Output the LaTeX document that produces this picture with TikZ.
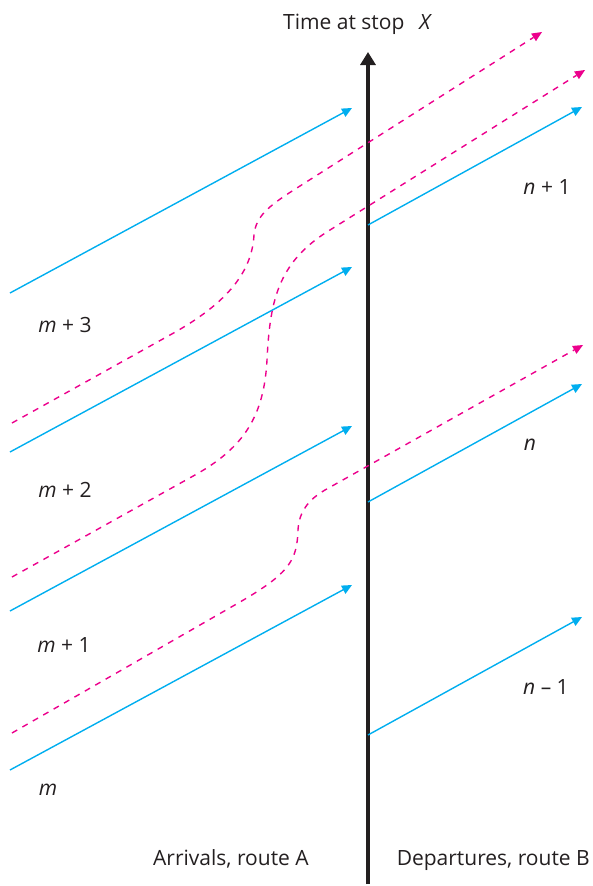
\documentclass[tikz,border=0pt]{standalone}
\usepackage{fontspec}
\setmainfont{Open Sans}
\usetikzlibrary{arrows.meta}

\definecolor{routecyan}{RGB}{0,174,239}
\definecolor{transfer}{RGB}{236,0,140}
\definecolor{axisblack}{RGB}{35,31,32}

\begin{document}
\begin{tikzpicture}[x=1pt, y=-1pt,
    arrive/.style={routecyan, line width=1.4pt, -{Triangle[length=10pt, width=9pt]}},
    connect/.style={transfer, line width=1.4pt, dash pattern=on 6pt off 6pt,
      -{Triangle[length=10pt, width=9pt, line width=0pt]}},
    lbl/.style={font=\fontsize{21}{24}\selectfont, text=axisblack, inner sep=0pt}]
  \useasboundingbox (0,0) rectangle (592,886);

  % time axis at stop X
  \draw[axisblack, line width=3.5pt, -{Triangle[length=13pt, width=15pt]}] (368,884) -- (368,52);
  \node[lbl, anchor=base west] (title) at (283,29) {Time at stop\hspace{15pt}\itshape X};

  % arrivals on route A
  \foreach \k in {0,...,3} {
    \draw[arrive] (10,{770-159*\k}) -- (352,{585-159*\k});
  }
  \node[lbl] (m0) at (48,790) {\itshape m};
  \node[lbl] (m1) at (64,645) {{\itshape m} + 1};
  \node[lbl] (m2) at (65,490) {{\itshape m} + 2};
  \node[lbl] (m3) at (65,325) {{\itshape m} + 3};

  % departures on route B
  \foreach \y in {735,502,225} {
    \draw[arrive] (368,\y) -- (582,{\y-118});
  }
  \node[lbl] (n0) at (546,687) {{\itshape n} \textendash{} 1};
  \node[lbl] (n1) at (530,445) {\itshape n};
  \node[lbl] (n2) at (547,187) {{\itshape n} + 1};

  % transfers
  \draw[connect] (12,733) -- (240,602) .. controls (290,573) and (297,560) .. (298,530)
    .. controls (299,512) and (308,500) .. (325,490) -- (583,345);
  \draw[connect] (12,577) -- (195,475) .. controls (245,447) and (264,415) .. (267,360)
    .. controls (270,300) and (278,262) .. (330,230) -- (585,70);
  \draw[connect] (12,423) -- (170,335) .. controls (230,302) and (252,270) .. (254,235)
    .. controls (256,215) and (270,205) .. (300,186) -- (542,32);

  \node[lbl, anchor=base west] (arr) at (153,865) {Arrivals, route A};
  \node[lbl, anchor=base east] (dep) at (590,865) {Departures, route B};
\end{tikzpicture}
\end{document}
